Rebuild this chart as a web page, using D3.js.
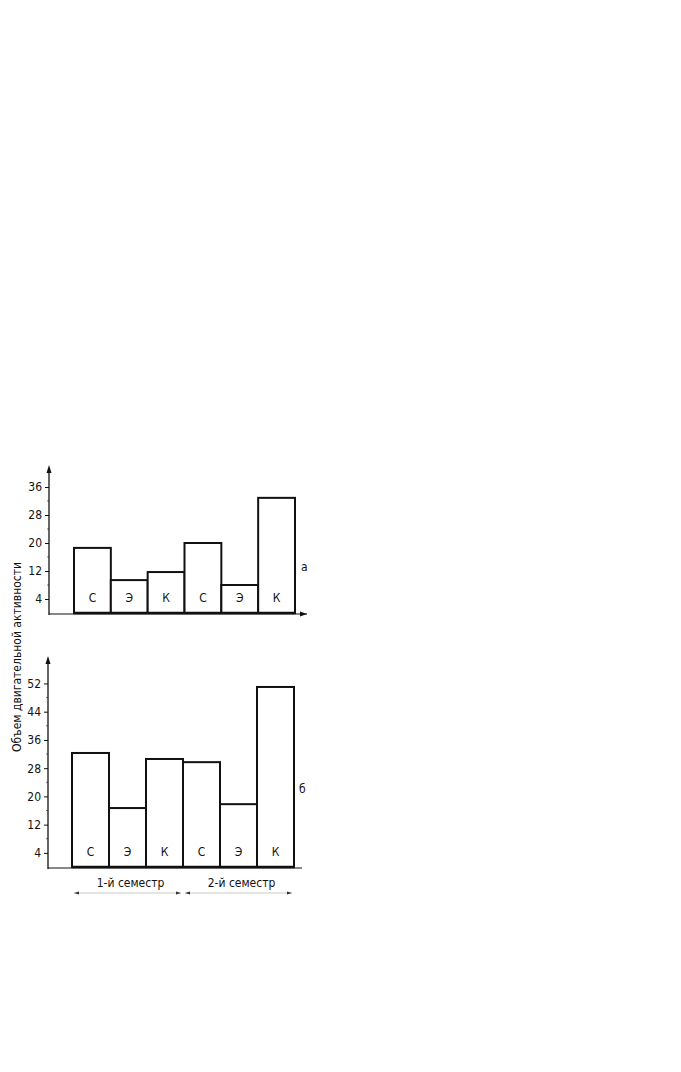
<!DOCTYPE html>
<html><head><meta charset="utf-8">
<script src="https://cdn.jsdelivr.net/npm/d3@7"></script>
<style>
body{margin:0;background:#fff;}
text{font-family:"DejaVu Sans Condensed","Liberation Sans Narrow",sans-serif;fill:#111;}
</style></head>
<body>
<script>
const categories = ["С1","Э1","К1","С2","Э2","К2"];
const barLabels = ["С","Э","К","С","Э","К"];
const valuesA = [18.6, 9.4, 11.7, 20.0, 8.0, 32.9];
const valuesB = [32.3, 16.7, 30.6, 29.7, 17.8, 51.0];
const ticksA = [4, 12, 20, 28, 36];
const ticksB = [4, 12, 20, 28, 36, 44, 52];
const semesters = ["1-й семестр", "2-й семестр"];
const yTitle = "Объем двигательной активности";

const W = 681, H = 1072;
const svg = d3.select("body").append("svg").attr("width", W).attr("height", H);

function panel(cfg){
  const g = svg.append("g");
  const x = d3.scaleBand().domain(categories).range([cfg.x0, cfg.x1]).padding(0);
  const y = d3.scaleLinear().domain([0, cfg.ymax]).range([cfg.base, cfg.top]);
  g.selectAll("rect.bar").data(cfg.values).join("rect")
    .attr("x", (d,i)=>x(categories[i]))
    .attr("y", d=>y(d))
    .attr("width", x.bandwidth())
    .attr("height", d=>y(0)-y(d))
    .attr("fill","#fff").attr("stroke","#111").attr("stroke-width",2);
  g.append("line").attr("x1",cfg.axisX).attr("x2",cfg.xEnd)
    .attr("y1",y(0)+1).attr("y2",y(0)+1).attr("stroke","#111").attr("stroke-width",1.2);
  g.append("line").attr("x1",cfg.x0).attr("x2",cfg.x1)
    .attr("y1",y(0)).attr("y2",y(0)).attr("stroke","#111").attr("stroke-width",2.5);
  const ax = d3.axisLeft(y).tickValues(cfg.ticks).tickSize(4).tickSizeOuter(0).tickPadding(3);
  const ag = g.append("g").attr("transform",`translate(${cfg.axisX},0)`).call(ax);
  ag.select(".domain").remove();
  ag.selectAll("text").style("font-size","12px").attr("font-family","DejaVu Sans Condensed");
  ag.selectAll("line").attr("stroke","#111");
  const minor = cfg.ticks.map(t=>t+4).filter(t=>t<cfg.ymax-2);
  g.selectAll("line.minor").data(minor).join("line")
    .attr("x1",cfg.axisX-2).attr("x2",cfg.axisX).attr("y1",d=>y(d)).attr("y2",d=>y(d))
    .attr("stroke","#555").attr("stroke-width",0.8);
  g.append("line").attr("x1",cfg.axisX).attr("x2",cfg.axisX)
    .attr("y1",y(0)+2).attr("y2",cfg.arrowTop+6).attr("stroke","#111").attr("stroke-width",1.3);
  g.append("path").attr("d",`M${cfg.axisX-2.5},${cfg.arrowTop+8}L${cfg.axisX},${cfg.arrowTop}L${cfg.axisX+2.5},${cfg.arrowTop+8}Z`).attr("fill","#111");
  if (cfg.xArrow){
    g.append("path").attr("d",`M${cfg.xEnd-7},${y(0)-1.5}L${cfg.xEnd},${y(0)+1}L${cfg.xEnd-7},${y(0)+3.5}Z`).attr("fill","#111");
  }
  g.selectAll("text.lbl").data(barLabels).join("text")
    .attr("x",(d,i)=>x(categories[i])+x.bandwidth()/2)
    .attr("y",cfg.labelY)
    .attr("text-anchor","middle").style("font-size","12px").text(d=>d);
  g.append("text").attr("x",cfg.letterX).attr("y",cfg.letterY).style("font-size","12px").text(cfg.letter);
  return {x,y};
}

panel({x0:74,x1:295,base:613,top:473,ymax:40,values:valuesA,ticks:ticksA,axisX:49,xEnd:307,arrowTop:465,xArrow:true,labelY:602,letter:"а",letterX:301,letterY:571});
panel({x0:72,x1:294,base:867,top:867-3.53*56,ymax:56,values:valuesB,ticks:ticksB,axisX:48,xEnd:302,arrowTop:656,xArrow:false,labelY:856,letter:"б",letterX:299,letterY:793});

const semX = d3.scaleBand().domain(semesters).range([72,294]);
svg.selectAll("text.sem").data(semesters).join("text")
  .attr("x",d=>semX(d)+semX.bandwidth()/2+3).attr("y",887)
  .attr("text-anchor","middle").style("font-size","12px").text(d=>d);
svg.selectAll("line.sem").data(semesters).join("line")
  .attr("x1",d=>semX(d)+2).attr("x2",d=>semX(d)+semX.bandwidth()-2)
  .attr("y1",893).attr("y2",893).attr("stroke","#bbb").attr("stroke-width",0.8);
svg.selectAll("path.semA").data(semesters).join("path")
  .attr("d",d=>{const a=semX(d)+2,b=semX(d)+semX.bandwidth()-2;
     return `M${a},893l5,-1.5v3Z M${b},893l-5,-1.5v3Z`;})
  .attr("fill","#333");

svg.append("text").attr("transform","translate(21,657) rotate(-90)")
  .attr("text-anchor","middle").style("font-size","12px").text(yTitle);
</script>
</body></html>
